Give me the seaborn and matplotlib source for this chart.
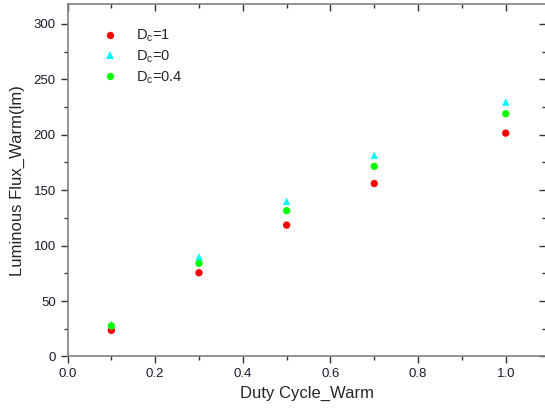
import pandas as pd
import matplotlib
matplotlib.use("Agg")
import matplotlib.pyplot as plt
import seaborn as sns
from matplotlib.ticker import MultipleLocator, FormatStrFormatter

sns.set_style("ticks")
plt.rcParams['font.family'] = ['Liberation Sans', 'DejaVu Sans']
plt.rcParams['mathtext.fontset'] = 'custom'
plt.rcParams['mathtext.rm'] = 'Liberation Sans'
plt.rcParams['mathtext.it'] = 'Liberation Sans'

# valores
duty = [0.1, 0.3, 0.5, 0.7, 1.0]
flux_dc1 = [23.5, 75.5, 118.5, 156, 201.5]
flux_dc0 = [29, 90, 140, 181.5, 229.5]
flux_dc04 = [27.5, 84, 131.5, 171.5, 219]
labels = [r'D$_\mathrm{c}$=1', r'D$_\mathrm{c}$=0', r'D$_\mathrm{c}$=0.4']

df = pd.DataFrame({
    'duty': duty * 3,
    'flux': flux_dc1 + flux_dc0 + flux_dc04,
    'serie': [labels[0]] * 5 + [labels[1]] * 5 + [labels[2]] * 5,
})

fig = plt.figure(figsize=(5.45, 4.13), dpi=100)
ax = fig.add_axes([0.1239, 0.1370, 0.878, 0.8533])

sns.scatterplot(data=df, x='duty', y='flux', hue='serie', style='serie',
                hue_order=labels, style_order=labels,
                palette=['#ff0000', '#00ffff', '#00ff00'],
                markers=['o', '^', 'o'], s=28, linewidth=0, ax=ax)

ax.set_xlim(0, 1.092)
ax.set_ylim(0, 318)
ax.xaxis.set_major_locator(MultipleLocator(0.2))
ax.xaxis.set_minor_locator(MultipleLocator(0.1))
ax.yaxis.set_major_locator(MultipleLocator(50))
ax.yaxis.set_minor_locator(MultipleLocator(25))
ax.xaxis.set_major_formatter(FormatStrFormatter('%.1f'))

for s in ax.spines.values():
    s.set_color('#808080')
    s.set_linewidth(1.2)
ax.tick_params(which='both', direction='out', color='#333333', labelsize=9.5,
               labelcolor='#1a1a2a')
ax.tick_params(which='major', length=5, width=1)
ax.tick_params(which='minor', length=3, width=1)

# ticks espelhados (para dentro) no topo e à direita
top = ax.secondary_xaxis('top')
top.xaxis.set_major_locator(MultipleLocator(0.2))
top.xaxis.set_minor_locator(MultipleLocator(0.1))
top.tick_params(which='both', direction='in', labeltop=False, color='#333333', width=1)
top.tick_params(which='major', length=5)
top.tick_params(which='minor', length=3)
top.spines['top'].set_visible(False)
right = ax.secondary_yaxis('right')
right.yaxis.set_major_locator(MultipleLocator(50))
right.yaxis.set_minor_locator(MultipleLocator(25))
right.tick_params(which='both', direction='in', labelright=False, color='#333333', width=1)
right.tick_params(which='major', length=5)
right.tick_params(which='minor', length=3)
right.spines['right'].set_visible(False)

ax.set_xlabel('Duty Cycle_Warm', fontsize=12, labelpad=4)
ax.set_ylabel('Luminous Flux_Warm(lm)', fontsize=12, labelpad=6)

leg = ax.legend(loc='upper left', frameon=False, fontsize=10.5,
                bbox_to_anchor=(0.03, 0.97), handletextpad=0.8, labelspacing=0.3)

plt.savefig('out.png', dpi=100)
